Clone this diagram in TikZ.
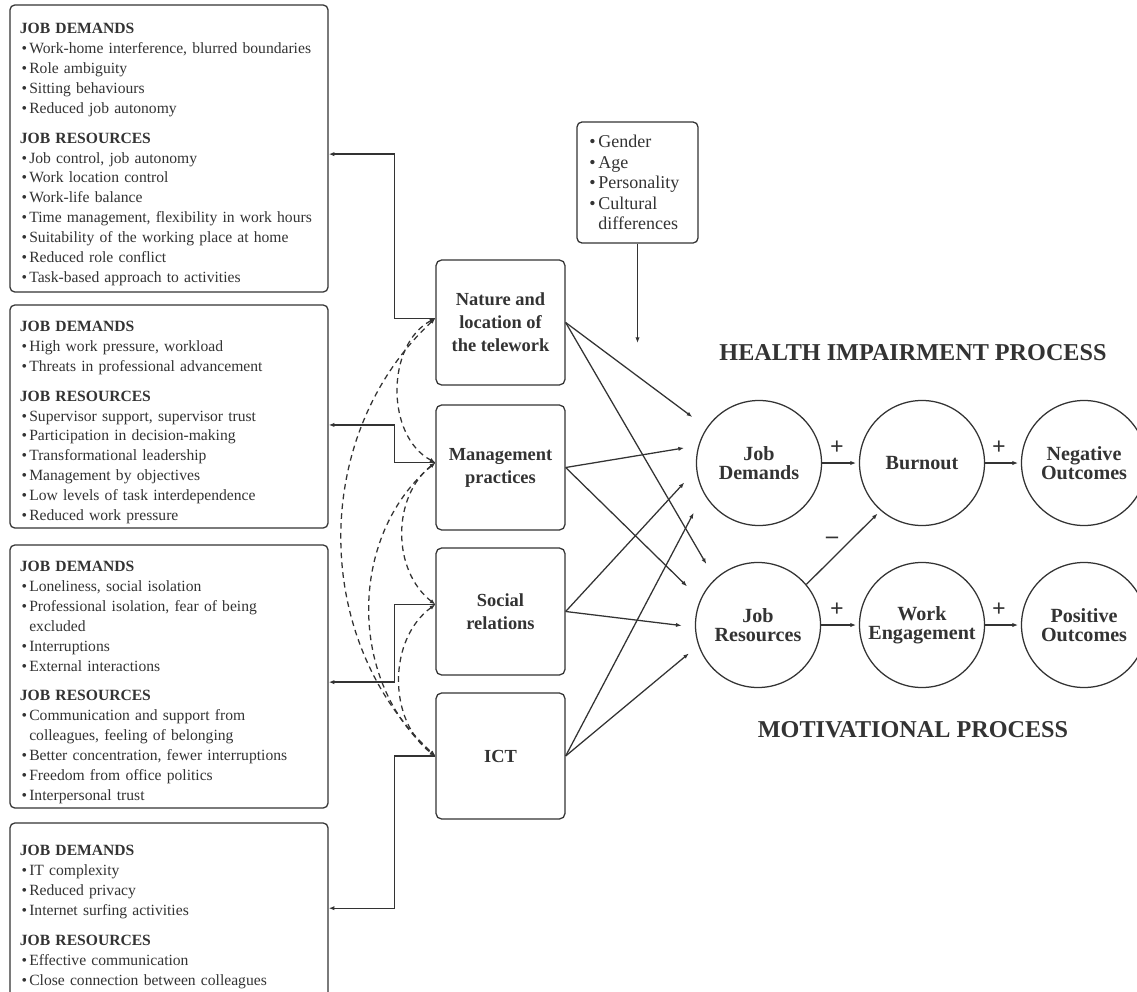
\documentclass[tikz,border=0pt]{standalone}
\usepackage{fontspec}
\setmainfont{Liberation Serif}
\usetikzlibrary{arrows.meta}

% list helpers for the boxes
\newcommand{\boxhead}[1]{\noindent\rule{0pt}{16pt}\textbf{#1}\par}
\newcommand{\boxsub}[1]{\vspace{7pt}\noindent\textbf{#1}\par}
\newcommand{\bitem}[1]{\noindent\hangindent=0.6em\hangafter=1\makebox[0.6em][l]{\hspace{0.1em}\textbullet}#1\par}

\begin{document}
\begin{tikzpicture}[
          x=0.025cm, y=-0.025cm,
          color=black!80, line width=0.9pt,
          listbox/.style={draw, rounded corners=3.5pt, text width=212pt, inner xsep=7.1pt,
            inner ysep=2pt, align=left, font=\fontsize{11.1}{14.2}\selectfont},
          factor/.style={draw, rounded corners=4pt, minimum width=3.225cm, minimum height=3.125cm,
            align=center, font=\fontsize{13.1}{16.4}\selectfont\bfseries},
          modbox/.style={draw, rounded corners=3.5pt, minimum height=3.025cm, text width=71pt,
            inner xsep=7.5pt, align=left, font=\fontsize{12.8}{14.5}\selectfont},
          construct/.style={draw, circle, minimum size=3.125cm, inner sep=0pt, align=center,
            font=\fontsize{14.3}{13.2}\selectfont\bfseries},
          title/.style={font=\fontsize{17.2}{20}\selectfont\bfseries},
          sign/.style={font=\fontsize{17}{17}\selectfont\bfseries},
          conn/.style={-{Latex[length=4pt,width=3pt]}},
          cov/.style={dash pattern=on 4pt off 3pt, {Latex[length=4pt,width=3pt]}-{Latex[length=4pt,width=3pt]}}
        ]
        \useasboundingbox (0,0) rectangle (1137,992);
        \fill[white] (0,0) rectangle (1137,992);

        % Demands and resources boxes (left column)
        \node[listbox, minimum height=7.175cm] (res1) at (169,148.5) {%
          \boxhead{JOB DEMANDS}
          \bitem{Work-home interference, blurred boundaries}
          \bitem{Role ambiguity}
          \bitem{Sitting behaviours}
          \bitem{Reduced job autonomy}
          \boxsub{JOB RESOURCES}
          \bitem{Job control, job autonomy}
          \bitem{Work location control}
          \bitem{Work-life balance}
          \bitem{Time management, flexibility in work hours}
          \bitem{Suitability of the working place at home}
          \bitem{Reduced role conflict}
          \bitem{Task-based approach to activities}};
        \node[listbox, minimum height=5.575cm] (res2) at (169,416.5) {%
          \boxhead{JOB DEMANDS}
          \bitem{High work pressure, workload}
          \bitem{Threats in professional advancement}
          \boxsub{JOB RESOURCES}
          \bitem{Supervisor support, supervisor trust}
          \bitem{Participation in decision-making}
          \bitem{Transformational leadership}
          \bitem{Management by objectives}
          \bitem{Low levels of task interdependence}
          \bitem{Reduced work pressure}};
        \node[listbox, minimum height=6.575cm] (res3) at (169,676.5) {%
          \boxhead{JOB DEMANDS}
          \bitem{Loneliness, social isolation}
          \bitem{Professional isolation, fear of being\newline excluded}
          \bitem{Interruptions}
          \bitem{External interactions}
          \boxsub{JOB RESOURCES}
          \bitem{Communication and support from\newline colleagues, feeling of belonging}
          \bitem{Better concentration, fewer interruptions}
          \bitem{Freedom from office politics}
          \bitem{Interpersonal trust}};
        \node[listbox, minimum height=4.4cm] (res4) at (169,911) {%
          \boxhead{JOB DEMANDS}
          \bitem{IT complexity}
          \bitem{Reduced privacy}
          \bitem{Internet surfing activities}
          \boxsub{JOB RESOURCES}
          \bitem{Effective communication}
          \bitem{Close connection between colleagues}};

        % Telework characteristics (middle column)
        \node[factor] (nature) at (500.5,322.5) {Nature and\\location of\\the telework};
        \node[factor] (mgmt) at (500.5,467.5) {Management\\practices};
        \node[factor, minimum height=3.175cm] (social) at (500.5,611.5) {Social\\relations};
        \node[factor, minimum height=3.15cm] (ict) at (500.5,756) {ICT};

        % Individual moderators
        \node[modbox] (mod) at (637.5,182.5) {%
          \bitem{Gender}
          \bitem{Age}
          \bitem{Personality}
          \bitem{Cultural\newline differences}};
        \coordinate (modtip) at (637.5,343);
        \draw[conn] (mod) -- (modtip);

        % JD-R constructs
        \node[construct] (jd) at (759,463) {Job\\Demands};
        \node[construct] (bo) at (922,463) {Burnout};
        \node[construct] (neg) at (1084,463) {Negative\\Outcomes};
        \node[construct] (jr) at (758,625) {Job\\Resources};
        \node[construct] (we) at (922,625) {Work\\Engagement};
        \node[construct] (pos) at (1084,625) {Positive\\Outcomes};

        \node[title] (hip) at (913,353) {HEALTH IMPAIRMENT PROCESS};
        \node[title] (motp) at (913,730) {MOTIVATIONAL PROCESS};

        % Links back to the left boxes
        \draw[conn] ([yshift=3pt]nature.west) -- ++(-41,0) |- ([yshift=-4pt]res1.east);
        \draw[conn] ([yshift=3.5pt]mgmt.west) -- ++(-41,0) |- ([yshift=-6pt]res2.east);
        \draw[conn] ([yshift=5pt]social.west) -- ++(-41,0) |- ([yshift=-4pt]res3.east);
        \draw[conn] (ict.west) -- ++(-41,0) |- ([yshift=2pt]res4.east);

        % Correlations between the characteristics
        \draw[cov] ([yshift=3pt]nature.west) to[bend right=62] ([yshift=3.5pt]mgmt.west);
        \draw[cov] ([yshift=3pt]nature.west) to[bend right=47] (ict.west);
        \draw[cov] ([yshift=3.5pt]mgmt.west) to[bend right=52] ([yshift=5pt]social.west);
        \draw[cov] ([yshift=3.5pt]mgmt.west) to[bend right=50] (ict.west);
        \draw[cov] ([yshift=5pt]social.west) to[bend right=54] (ict.west);

        % Characteristics to demands and resources
        \draw[conn, shorten >=12.7pt] (nature.east) -- (jd.146.4);
        \draw[conn, shorten >=10.3pt] (mgmt.east) -- (jd.164.1);
        \draw[conn, shorten >=12.5pt] (social.east) -- (jd.186);
        \draw[conn, shorten >=15.4pt] (ict.east) -- (jd.209.9);
        \draw[conn, shorten >=12.2pt] (nature.east) -- (jr.133);
        \draw[conn, shorten >=13.2pt] (mgmt.east) -- (jr.156.3);
        \draw[conn, shorten >=9.5pt] (social.east) -- (jr.182.1);
        \draw[conn, shorten >=8.7pt] (ict.east) -- (jr.199);

        % Process arrows
        \draw[conn, shorten >=2pt] (jd) -- (bo);
        \draw[conn, shorten >=2pt] (bo) -- (neg);
        \draw[conn, shorten >=2pt] (jr) -- (we);
        \draw[conn, shorten >=2pt] (we) -- (pos);
        \draw[conn, shorten >=3pt] (jr.40) -- (bo.229);

        \node[sign] (s1) at (837,448) {+};
        \node[sign] (s2) at (999,448) {+};
        \node[sign] (s3) at (837,610) {+};
        \node[sign] (s4) at (999,610) {+};
        \node[sign] (s5) at (832,540) {–};

      \end{tikzpicture}
\end{document}
